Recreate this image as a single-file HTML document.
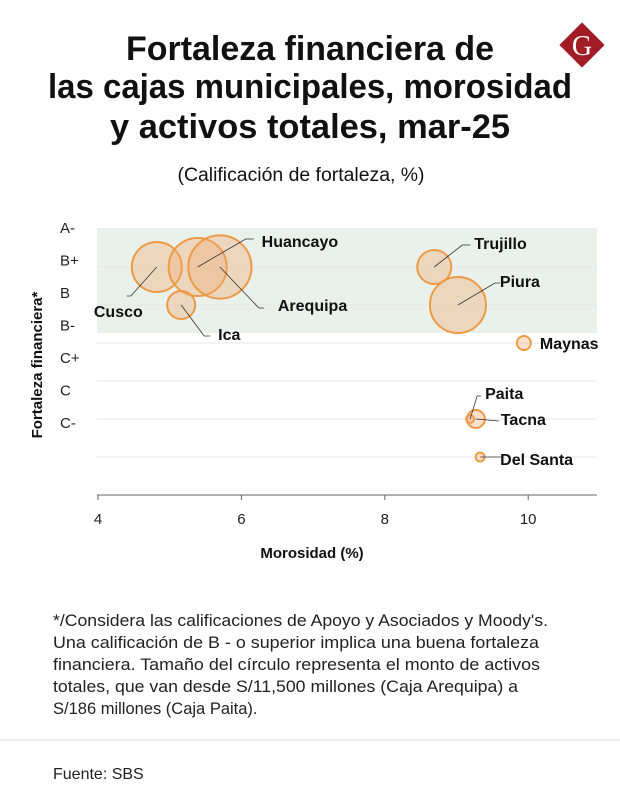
<!DOCTYPE html>
<html><head><meta charset="utf-8"><style>
html,body{margin:0;padding:0;background:#fff;}
svg{display:block;font-family:"Liberation Sans",sans-serif;}
</style></head><body>
<svg id="chart" width="620" height="806" viewBox="0 0 620 806" xmlns="http://www.w3.org/2000/svg">
<g font-weight="bold" font-size="34" fill="#111" text-anchor="middle">
<text x="310" y="60" textLength="368" lengthAdjust="spacingAndGlyphs">Fortaleza financiera de</text>
<text x="310" y="98" textLength="524" lengthAdjust="spacingAndGlyphs">las cajas municipales, morosidad</text>
<text x="310" y="138" textLength="400" lengthAdjust="spacingAndGlyphs">y activos totales, mar-25</text>
</g>
<text x="301" y="181" font-size="19" text-anchor="middle" fill="#111" textLength="247" lengthAdjust="spacingAndGlyphs">(Calificación de fortaleza, %)</text>
<g>
<rect x="566" y="29" width="32" height="32" fill="#a11c24" transform="rotate(45 582 45)"/>
<text x="582" y="55" font-family="Liberation Serif,serif" font-size="28" fill="#fff" text-anchor="middle">G</text>
</g>
<rect x="97" y="228" width="500" height="105" fill="#eaf0ea"/>
<g id="grid"></g>
<g id="yticks" font-size="15" fill="#222"></g>
<line x1="97" y1="495" x2="597" y2="495" stroke="#666" stroke-width="1"/>
<g id="xticks" font-size="15" fill="#222"></g>
<text transform="translate(42 365) rotate(-90)" text-anchor="middle" font-size="15" font-weight="bold" fill="#111">Fortaleza financiera*</text>
<text x="312" y="558" text-anchor="middle" font-size="15" font-weight="bold" fill="#111">Morosidad (%)</text>
<g id="bubbles"></g>
<g id="labels" font-size="16" font-weight="bold" fill="#111"></g>
<g font-size="16.5" fill="#222">
<text x="53" y="626" textLength="495" lengthAdjust="spacingAndGlyphs">*/Considera las calificaciones de Apoyo y Asociados y Moody's.</text>
<text x="53" y="648" textLength="486" lengthAdjust="spacingAndGlyphs">Una calificación de B - o superior implica una buena fortaleza</text>
<text x="53" y="670" textLength="487" lengthAdjust="spacingAndGlyphs">financiera. Tamaño del círculo representa el monto de activos</text>
<text x="53" y="692" textLength="465" lengthAdjust="spacingAndGlyphs">totales, que van desde S/11,500 millones (Caja Arequipa) a</text>
<text x="53" y="714">S/186 millones (Caja Paita).</text>
</g>
<line x1="0" y1="740" x2="620" y2="740" stroke="#ddd"/>
<text x="53" y="779" font-size="16" fill="#222">Fuente: SBS</text>
</svg>
<script>
const cajas = ["Cusco","Huancayo","Arequipa","Ica","Trujillo","Piura","Maynas","Paita","Tacna","Del Santa"];
const morosidad = [4.82,5.39,5.70,5.16,8.69,9.02,9.94,9.19,9.27,9.33];
const ratingLevel = [0,0,0,1,0,1,2,4,4,5];
const activos = [7200,9700,11500,2260,3330,9030,560,186,930,230];
const xTicks = [4,6,8,10];
const yTickLabels = ["A-","B+","B","B-","C+","C","C-"];
const gridLevels = [0,1,2,3,4,5];
// annotation offsets relative to bubble centre: [elbowDx, elbowDy, tailDx, textDx, textDy, anchor]
const labelOffsets = {
 "Cusco":[-26,29,-4,-14,50,"end"],"Huancayo":[48,-28,8,64,-20,"start"],"Arequipa":[39,41,5,58,44,"start"],
 "Ica":[23,31,6,37,35,"start"],"Trujillo":[28,-22,8,40,-18,"start"],"Piura":[37,-22,5,42,-18,"start"],
 "Maynas":[null,0,0,9,6,"start"],"Paita":[7,-23,4,15,-20,"start"],"Tacna":[23,2,0,25,6,"start"],"Del Santa":[21,0,0,20,8,"start"]
};
const NS="http://www.w3.org/2000/svg";
const xS=v=>98+(v-4)*71.7;
const yS=l=>267+l*38;
const rS=a=>Math.sqrt(a)*0.2947;
const yLab=i=>233+i*32.5;
function mk(t,a,p){const e=document.createElementNS(NS,t);for(const k in a)e.setAttribute(k,a[k]);p.appendChild(e);return e;}
const grid=document.getElementById('grid');
gridLevels.forEach(l=>{
 const e=mk('line',{x1:97,x2:597,y1:yS(l),y2:yS(l),stroke:'#e6e6e6','stroke-width':1},grid);
 
 
});
const yt=document.getElementById('yticks');
yTickLabels.forEach((s,i)=>{
 const e=mk('text',{x:60,y:yLab(i)},yt);e.textContent=s;
 
 
});
const xt=document.getElementById('xticks');
xTicks.forEach(v=>{
 const l=mk('line',{x1:xS(v),x2:xS(v),y1:495,y2:500,stroke:'#666'},xt);
 
 
 const e=mk('text',{x:xS(v),y:524,'text-anchor':'middle'},xt);e.textContent=v;
 
 
});
const bg=document.getElementById('bubbles'),lg=document.getElementById('labels');
cajas.forEach((n,i)=>{
 const cx=xS(morosidad[i]),cy=yS(ratingLevel[i]),r=rS(activos[i]);
 const c=mk('circle',{cx:cx,cy:cy,r:r,fill:'rgba(240,170,110,0.35)',stroke:'#ec9a45','stroke-width':2},bg);
 
 
 const o=labelOffsets[n];
 if(o[0]!==null){
  const ex=cx+o[0],ey=cy+o[1];
  const ln=mk('polyline',{points:`${cx},${cy} ${ex},${ey} ${ex+o[2]},${ey}`,fill:'none',stroke:'#333','stroke-width':0.8},lg);
  
  
 }
 const t=mk('text',{x:cx+o[3]+(o[0]===null?r:0),y:cy+o[4],'text-anchor':o[5]},lg);
 t.textContent=n;
 
 
});
</script>
</body></html>
